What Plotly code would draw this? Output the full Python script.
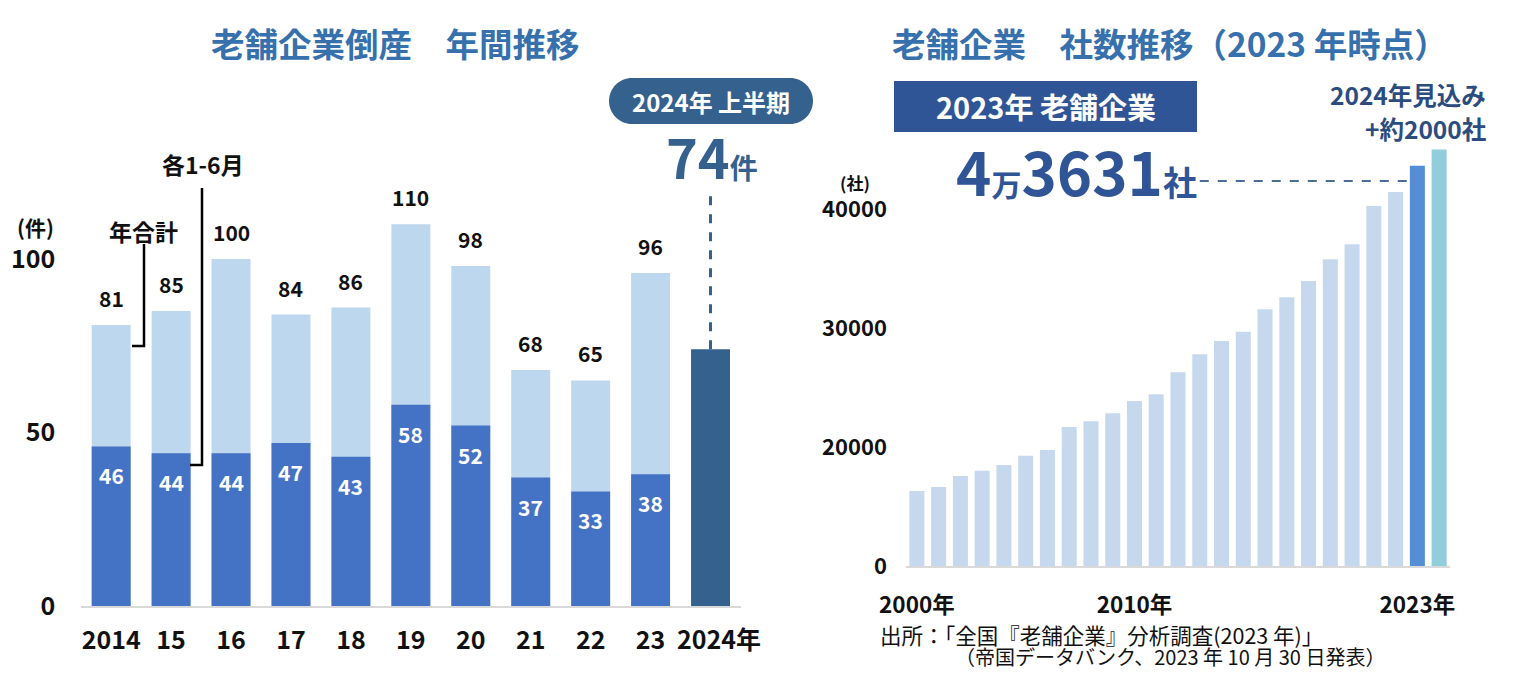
import plotly.graph_objects as go

# 左：老舗企業倒産（件）
cats_left = ["2014", "15", "16", "17", "18", "19", "20", "21", "22", "23"]
total_year = [81, 85, 100, 84, 86, 110, 98, 68, 65, 96]
first_half = [46, 44, 44, 47, 43, 58, 52, 37, 33, 38]
cat_2024 = "2024年"
first_half_2024 = 74

# 右：老舗企業 社数（社）
years_right = list(range(2000, 2025))
firms = [16300, 16640, 17560, 18010, 18490, 19270, 19750, 21680, 22160, 22830,
         23870, 24440, 26280, 27790, 28910, 29690, 31570, 32580, 33950, 35770,
         37030, 40250, 41430, 43631, 45000]
right_ticks = [2000, 2010, 2023]
right_ticktext = ["2000年", "2010年", "2023年"]

# ページの余白 8px を差し引いた図の大きさ
OFF = 8
W, H = 1534 - 2 * OFF, 678 - 2 * OFF
FONT = "Noto Sans CJK JP"
TITLE_C = "#3671AD"
NAVY = "#2F5597"
PILL = "#35618F"


def px(x):
    return (x - OFF) / W


def py(y):
    return 1 - (y - OFF) / H


# 左の横軸は位置番号で描き、目盛り文字で年を出す
pos_left = list(range(len(cats_left)))
pos_2024 = len(cats_left)

fig = go.Figure()

# 年合計（薄い青）と各1-6月（濃い青）を重ねる
fig.add_trace(go.Bar(x=pos_left, y=total_year, marker_color="#BDD7EE",
                     marker_line_width=0, xaxis="x", yaxis="y"))
fig.add_trace(go.Bar(x=pos_left, y=first_half, marker_color="#4472C4",
                     marker_line_width=0, xaxis="x", yaxis="y"))
fig.add_trace(go.Bar(x=[pos_2024], y=[first_half_2024], marker_color=PILL,
                     marker_line_width=0, xaxis="x", yaxis="y"))

colors_right = ["#C6D8EE"] * (len(years_right) - 2) + ["#558ED5", "#92CDDC"]
fig.add_trace(go.Bar(x=years_right, y=firms, marker_color=colors_right,
                     marker_line_width=0, width=0.69, xaxis="x2", yaxis="y2"))

annotations = []
for p, t, h in zip(pos_left, total_year, first_half):
    annotations.append(dict(x=p, y=t, xref="x", yref="y", text=str(t), showarrow=False,
                            yshift=27, font=dict(size=21, color="#111", weight="bold")))
    annotations.append(dict(x=p, y=h, xref="x", yref="y", text=str(h), showarrow=False,
                            yshift=-29, font=dict(size=21, color="white", weight="bold")))


def txt(x, y, text, size, color="#111", weight="bold", xanchor="center"):
    annotations.append(dict(x=px(x), y=py(y), xref="paper", yref="paper", text=text,
                            showarrow=False, xanchor=xanchor, yanchor="middle",
                            font=dict(size=size, color=color, weight=weight)))


txt(395, 42, "老舗企業倒産　年間推移", 33.5, TITLE_C)
txt(1170, 42, "老舗企業　社数推移（2023 年時点）", 33.5, TITLE_C)
txt(35, 227, "(件)", 21)
txt(143, 231, "年合計", 23)
txt(203, 164, "各1-6月", 23)
txt(711, 101, "2024年 上半期", 24, "white")
txt(712, 155, "<span style='font-size:54px'>74</span><span style='font-size:28px'>件</span>",
    54, PILL)
txt(1046, 106, "2023年 老舗企業", 29, "white")
txt(1076, 169, "<span style='font-size:60px'>4</span><span style='font-size:30px'>万</span>"
    "<span style='font-size:60px'>3631</span><span style='font-size:34px'>社</span>",
    60, NAVY)
txt(1488, 95, "2024年見込み", 24.5, "#2B4C7E", xanchor="right")
txt(1488, 128, "+約2000社", 24.5, "#2B4C7E", xanchor="right")
txt(855, 183, "(社)", 17)
txt(878, 634, "出所：「全国『老舗企業』分析調査(2023 年)」", 21.5, weight="normal", xanchor="left")
txt(953, 656, "（帝国データバンク、2023 年 10 月 30 日発表）", 20, weight="normal", xanchor="left")

# 角丸ラベル（2024年 上半期）
L, R, T, B = 609, 813, 78, 124
r = (B - T) / 2
k = 0.5523 * r
pts = [
    ("M", [(L + r, T)]),
    ("L", [(R - r, T)]),
    ("C", [(R - r + k, T), (R, T + r - k), (R, T + r)]),
    ("C", [(R, T + r + k), (R - r + k, B), (R - r, B)]),
    ("L", [(L + r, B)]),
    ("C", [(L + r - k, B), (L, T + r + k), (L, T + r)]),
    ("C", [(L, T + r - k), (L + r - k, T), (L + r, T)]),
]
path = " ".join(cmd + " " + " ".join(f"{px(a):.5f},{py(b):.5f}" for a, b in p) for cmd, p in pts) + " Z"

shapes = [
    dict(type="path", path=path, xref="paper", yref="paper", fillcolor=PILL,
         line_width=0, layer="below"),
    dict(type="rect", x0=px(894), x1=px(1197), y0=py(81), y1=py(132), xref="paper",
         yref="paper", fillcolor=NAVY, line_width=0, layer="below"),
    # 括弧線
    dict(type="path", xref="paper", yref="paper", line=dict(color="black", width=2.5),
         path=f"M {px(144)},{py(244)} L {px(144)},{py(346)} L {px(132)},{py(346)}"),
    dict(type="path", xref="paper", yref="paper", line=dict(color="black", width=2.5),
         path=f"M {px(202)},{py(188)} L {px(202)},{py(465)} L {px(190)},{py(465)}"),
    # 点線
    dict(type="line", xref="x", yref="y", x0=pos_2024, x1=pos_2024, y0=first_half_2024, y1=120,
         line=dict(color=PILL, width=3, dash="dash")),
    dict(type="line", xref="x2", yref="y2", x0=2013.0, x1=2022.65, y0=42350, y1=42350,
         line=dict(color="#4A6F96", width=2, dash="dash")),
]

fig.update_layout(
    width=W, height=H,
    margin=dict(l=0, r=0, t=0, b=0, autoexpand=False),
    paper_bgcolor="white", plot_bgcolor="white",
    barmode="overlay", bargap=0.35, showlegend=False,
    font=dict(family=FONT, color="#111"),
    annotations=annotations, shapes=shapes,
    xaxis=dict(domain=[px(81.2), px(740.5)], anchor="y", range=[-0.5, 10.5],
               tickvals=pos_left + [pos_2024],
               ticktext=cats_left + ["\u00a0\u00a0\u00a0" + cat_2024],
               tickangle=0,
               showline=True, linecolor="#D9D9D9", linewidth=2, showgrid=False,
               zeroline=False, ticks="", ticklabelstandoff=11, automargin=False,
               tickfont=dict(size=25, weight="bold", color="#111")),
    yaxis=dict(domain=[py(606), py(120)], anchor="x", range=[0, 140.06], tickvals=[0, 50, 100],
               showgrid=False, zeroline=False, ticks="", ticklabelstandoff=25,
               automargin=False, tickfont=dict(size=25, weight="bold", color="#111")),
    xaxis2=dict(domain=[px(906), px(1450)], anchor="y2", range=[1999.5, 2024.5],
                tickvals=right_ticks, ticktext=right_ticktext,
                showline=True, linecolor="#D9D9D9", linewidth=2, showgrid=False,
                ticks="", ticklabelstandoff=18, zeroline=False, automargin=False,
                tickfont=dict(size=22.5, weight="bold", color="#111")),
    yaxis2=dict(domain=[py(566), py(130)], anchor="x2", range=[10000, 46640],
                tickvals=[10000, 20000, 30000, 40000],
                ticktext=["0", "20000", "30000", "40000"],
                showgrid=False, zeroline=False, ticks="", ticklabelstandoff=18,
                automargin=False, tickfont=dict(size=22, weight="bold", color="#111")),
)

fig.write_html("out.html")
